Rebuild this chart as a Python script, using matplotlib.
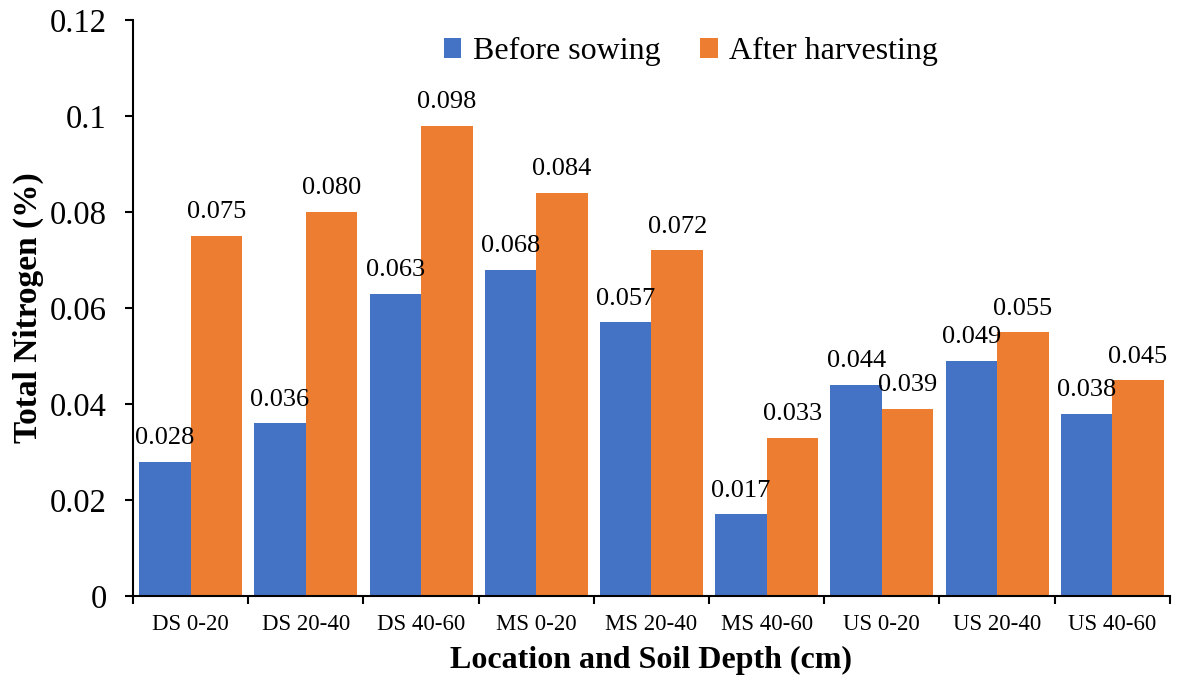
import matplotlib
matplotlib.use("Agg")
import matplotlib.pyplot as plt
import numpy as np

categories = ["DS 0-20", "DS 20-40", "DS 40-60", "MS 0-20", "MS 20-40",
              "MS 40-60", "US 0-20", "US 20-40", "US 40-60"]
before_sowing = [0.028, 0.036, 0.063, 0.068, 0.057, 0.017, 0.044, 0.049, 0.038]
after_harvesting = [0.075, 0.080, 0.098, 0.084, 0.072, 0.033, 0.039, 0.055, 0.045]
ytick_values = [0, 0.02, 0.04, 0.06, 0.08, 0.1, 0.12]
ytick_labels = ["0", "0.02", "0.04", "0.06", "0.08", "0.1", "0.12"]

plt.rcParams['font.family'] = ['Liberation Serif', 'DejaVu Serif']

fig = plt.figure(figsize=(11.81, 6.77), dpi=100)
ax = fig.add_axes([0.1126, 0.1196, 0.878, 0.8509])

x = np.arange(len(categories))
w = 0.447
b1 = ax.bar(x - w / 2, before_sowing, w, color="#4472C4", label="Before sowing")
b2 = ax.bar(x + w / 2, after_harvesting, w, color="#ED7D31", label="After harvesting")

for bars, vals in ((b1, before_sowing), (b2, after_harvesting)):
    for r, v in zip(bars, vals):
        ax.annotate(f"{v:.3f}", (r.get_x() + r.get_width() / 2, v),
                    xytext=(0, 9), textcoords="offset points",
                    ha="center", va="bottom", fontsize=19)

ax.set_xlim(-0.5, len(categories) - 0.5)
ax.set_ylim(0, 0.12)
ax.set_yticks(ytick_values)
ax.set_yticklabels(ytick_labels, fontsize=23.5)
ax.set_xticks(x)
ax.set_xticklabels(categories, fontsize=16.5)
ax.set_xticks(np.arange(len(categories) + 1) - 0.5, minor=True)
ax.tick_params(axis="x", which="major", length=0, pad=13)
ax.tick_params(axis="x", which="minor", length=6, width=1.5, direction="out")
ax.tick_params(axis="y", length=6, width=1.5, direction="out", pad=13)

for s in ("top", "right"):
    ax.spines[s].set_visible(False)
for s in ("left", "bottom"):
    ax.spines[s].set_linewidth(1.5)

ax.set_xlabel("Location and Soil Depth (cm)", fontsize=23, fontweight="bold", labelpad=8)
ax.set_ylabel("Total Nitrogen (%)", fontsize=24, fontweight="bold", labelpad=4)

ax.legend(loc="upper center", bbox_to_anchor=(0.538, 1.02), ncol=2, frameon=False,
          fontsize=23, handlelength=0.55, handleheight=0.55, handletextpad=0.35,
          columnspacing=1.25)

fig.savefig("out.png", dpi=100)
